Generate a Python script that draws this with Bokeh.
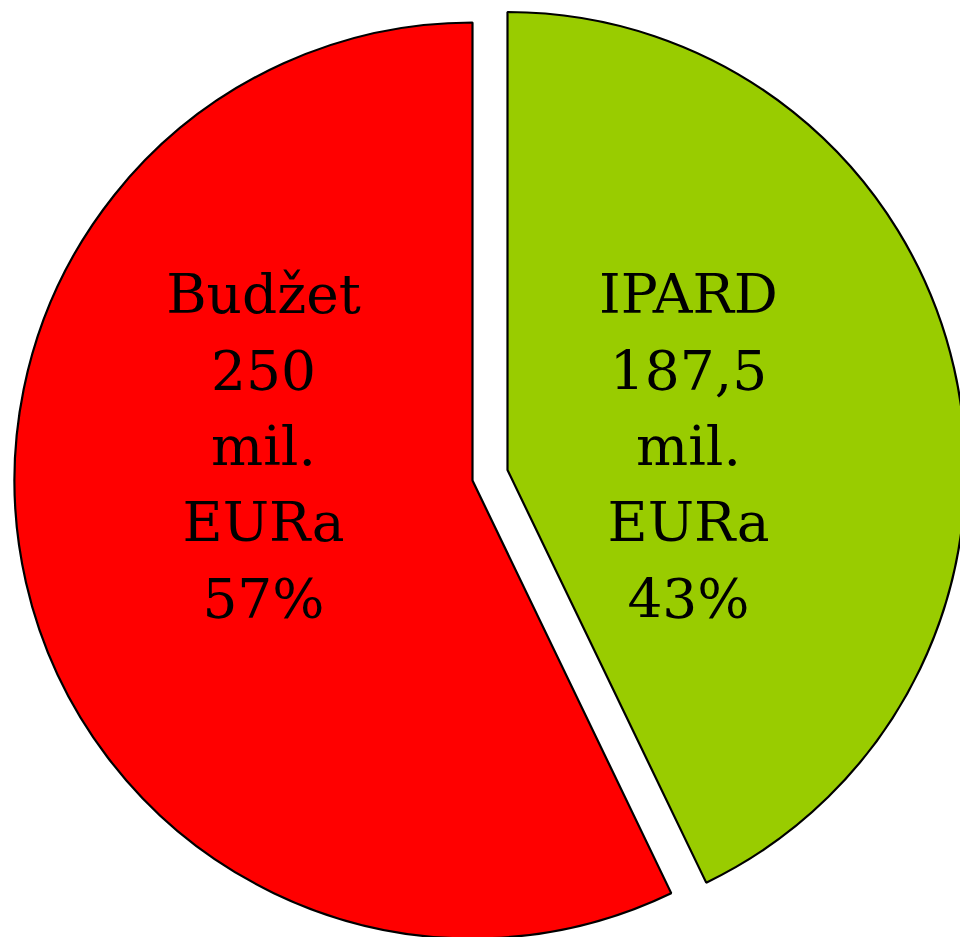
import math
from bokeh.plotting import figure
from bokeh.models import ColumnDataSource, Range1d
from bokeh.core.properties import value
from bokeh.embed import file_html
from bokeh.resources import INLINE

# ---- data ----
names = ["Budžet", "IPARD"]
amounts = [250, 187.5]
amount_texts = ["250", "187,5"]
unit_lines = ["mil.", "EURa"]
colors = ["#FF0000", "#99CC00"]

# ---- layout (pixel-like data units; y is negative screen y) ----
W, H = 960, 937
cx, cy = 472, -480          # pie centre
R = 458                     # radius
explode = [(0, 0), (35, 10.5)]   # offset of each slice
label_x = [263, 688]
first_baseline = -293
line_step = 76.3
font_px = "55px"

total = sum(amounts)
fracs = [a / total for a in amounts]

# IPARD slice starts at 12 o'clock and goes clockwise; Budžet fills the rest
green_sweep = fracs[1] * 2 * math.pi
top = math.pi / 2
starts = [top, top - green_sweep]
ends = [top + fracs[0] * 2 * math.pi, top]

p = figure(width=W, height=H, output_backend="svg", toolbar_location=None,
           x_range=Range1d(0, W), y_range=Range1d(-H, 0),
           min_border=0)
p.axis.visible = False
p.grid.visible = False
p.outline_line_color = None
p.background_fill_color = "white"
p.border_fill_color = "white"

src = ColumnDataSource(dict(
    x=[cx + e[0] for e in explode],
    y=[cy + e[1] for e in explode],
    start=starts, end=ends, color=colors))
p.wedge(x="x", y="y", radius=R, radius_units="data",
        start_angle="start", end_angle="end", direction="anticlock",
        fill_color="color", line_color="black", line_width=2.2, source=src)

# labels
tx, ty, tt = [], [], []
for i in range(len(names)):
    pct = f"{round(fracs[i] * 100)}%"
    lines = [names[i], amount_texts[i]] + unit_lines + [pct]
    for j, ln in enumerate(lines):
        tx.append(label_x[i])
        ty.append(first_baseline - j * line_step)
        tt.append(ln)
p.text(x=tx, y=ty, text=tt, text_font=value("DejaVu Serif"),
       text_font_size=value(font_px), text_align="center",
       text_baseline="alphabetic", text_color="black")

open("out.html", "w").write(file_html(p, INLINE))
